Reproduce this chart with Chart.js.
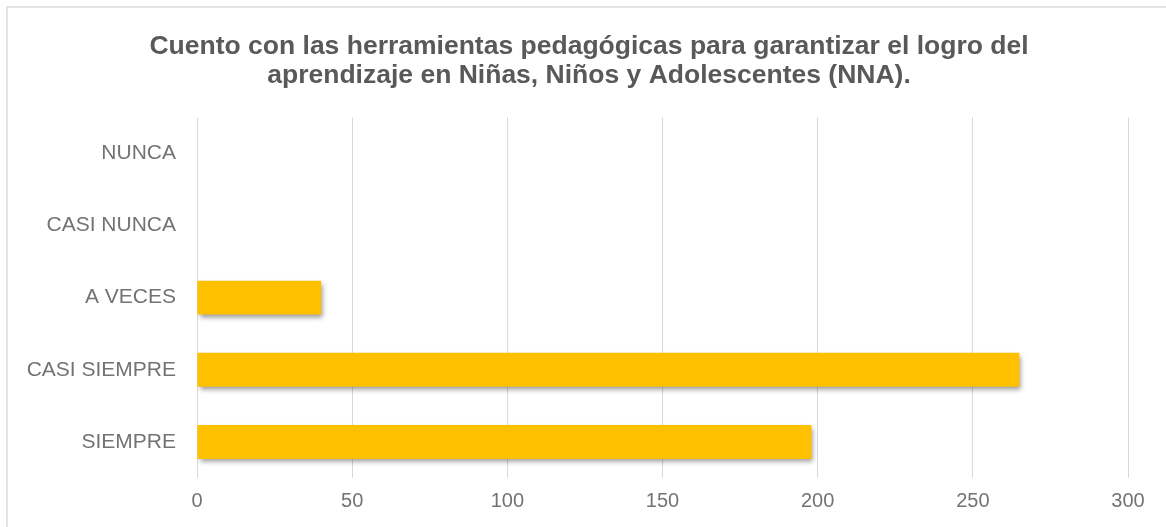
<!DOCTYPE html>
<html>
<head>
<meta charset="utf-8">
<script src="https://cdn.jsdelivr.net/npm/chart.js@4.4.0/dist/chart.umd.min.js"></script>
<style>
  html, body { margin: 0; padding: 0; background: #fff; }
  #wrap { position: relative; width: 1166px; height: 527px; }
  #frame { position: absolute; left: 6px; top: 6px; right: 0; bottom: 0;
           border-top: 2px solid #e4e4e4; border-left: 2px solid #e4e4e4; }
  canvas { position: absolute; left: 0; top: 0; }
</style>
</head>
<body>
<div id="wrap">
  <div id="frame"></div>
  <canvas id="myChart" width="1166" height="527"></canvas>
</div>
<script>
var titleLines = [
  'Cuento con las herramientas pedagógicas para garantizar el logro del',
  'aprendizaje en Niñas, Niños y Adolescentes (NNA).'
];
var categories = ['NUNCA', 'CASI NUNCA', 'A VECES', 'CASI SIEMPRE', 'SIEMPRE'];
var counts = [0, 0, 40, 265, 198];
var xTicks = [0, 50, 100, 150, 200, 250, 300];

// bar shadow, drawn before the dataset and cleared after
var shadowPlugin = {
  id: 'barShadow',
  beforeDatasetDraw: function (chart) {
    var ctx = chart.ctx;
    ctx.save();
    ctx.shadowColor = 'rgba(0, 0, 0, 0.4)';
    ctx.shadowBlur = 5;
    ctx.shadowOffsetX = 2;
    ctx.shadowOffsetY = 3;
  },
  afterDatasetDraw: function (chart) {
    chart.ctx.restore();
  }
};

function barGradient(context) {
  var chart = context.chart;
  var el = context.element;
  if (!chart.chartArea || !el) return '#ffc000';
  var top = el.y - el.height / 2;
  var bottom = el.y + el.height / 2;
  if (!isFinite(top) || !isFinite(bottom) || top === bottom) return '#ffc000';
  var g = chart.ctx.createLinearGradient(0, top, 0, bottom);
  g.addColorStop(0, '#ffca45');
  g.addColorStop(0.45, '#ffc000');
  g.addColorStop(1, '#e9ad00');
  return g;
}

var labelFont = '"Liberation Sans", Arial, sans-serif';

var ctx = document.getElementById('myChart').getContext('2d');
var myChart = new Chart(ctx, {
  type: 'bar',
  data: {
    labels: categories,
    datasets: [{
      data: counts,
      backgroundColor: barGradient,
      borderWidth: 0,
      categoryPercentage: 1,
      barPercentage: 0.47
    }]
  },
  plugins: [shadowPlugin],
  options: {
    indexAxis: 'y',
    responsive: false,
    animation: false,
    // title is centred between the paddings, so left/right are uneven
    layout: { padding: { left: 12, top: 32, right: 0, bottom: 0 } },
    plugins: {
      legend: { display: false },
      tooltip: { enabled: false },
      title: {
        display: true,
        text: titleLines,
        color: '#595959',
        font: { family: labelFont, size: 26.5, weight: 'bold', lineHeight: 1.1 },
        padding: { top: 0, bottom: 27 }
      }
    },
    scales: {
      x: {
        min: 0,
        max: 300,
        afterBuildTicks: function (axis) {
          axis.ticks = xTicks.map(function (v) { return { value: v }; });
        },
        afterFit: function (axis) { axis.height = 49; },
        grid: { color: '#d9d9d9', lineWidth: 1, drawTicks: false },
        border: { display: false },
        ticks: { color: '#737373', padding: 11, font: { family: labelFont, size: 20 } }
      },
      y: {
        afterFit: function (axis) { axis.width = 185; },
        grid: { display: false, drawTicks: false },
        border: { display: false },
        ticks: { color: '#737373', padding: 21, font: { family: labelFont, size: 21 } }
      },
      // empty spacer on the right so the plot ends at 300 where the reference does
      spacer: {
        type: 'linear',
        axis: 'y',
        position: 'right',
        display: true,
        afterFit: function (axis) { axis.width = 38; },
        grid: { display: false, drawTicks: false },
        border: { display: false },
        ticks: { display: false }
      }
    }
  }
});
</script>
</body>
</html>
